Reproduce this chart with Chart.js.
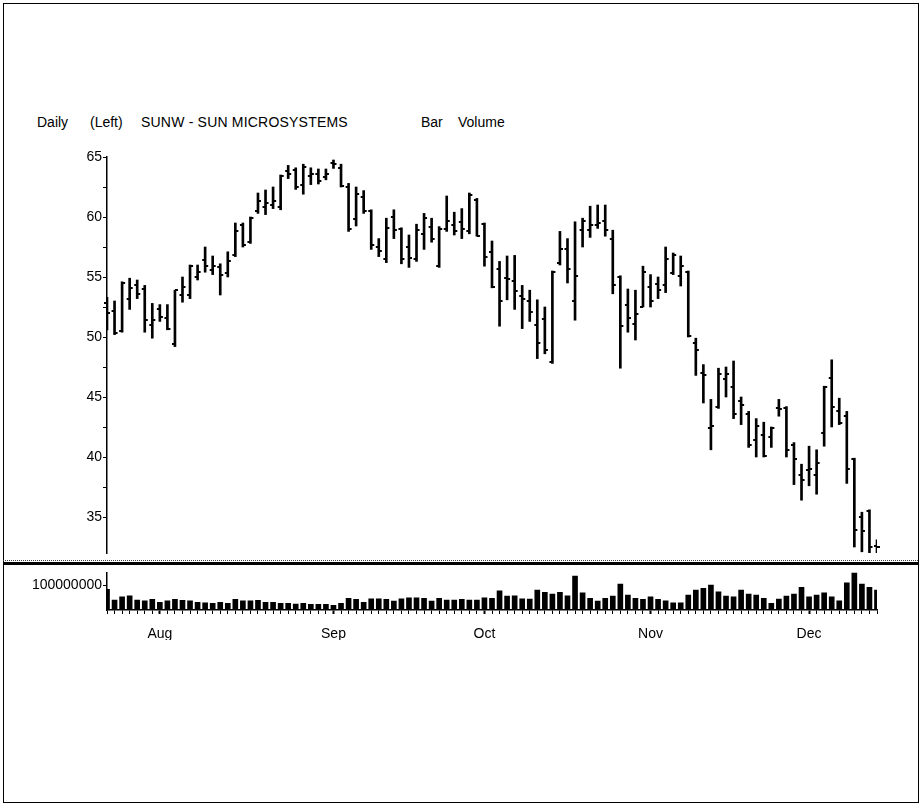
<!DOCTYPE html>
<html>
<head>
<meta charset="utf-8">
<script src="https://cdn.jsdelivr.net/npm/chart.js@4.4.0/dist/chart.umd.min.js"></script>
<style>
  html, body { margin: 0; padding: 0; background: #fff; }
  #page { position: relative; width: 922px; height: 805px; overflow: hidden;
          font-family: "Liberation Sans", Arial, sans-serif; color: #000; }
  #frame { position: absolute; left: 3px; top: 3px; width: 916px; height: 800px;
           border: 1px solid #000; box-sizing: border-box; }
  .txt { position: absolute; top: 115px; font-size: 14px; line-height: 14px; white-space: nowrap; }
  #sep1 { position: absolute; left: 3px; width: 915px; top: 560px; height: 0; border-top: 1px dotted #444; }
  #sep2 { position: absolute; left: 3px; width: 915px; top: 562px; height: 3px; background: #000; }
  canvas { position: absolute; left: 0; top: 0; }
</style>
</head>
<body>
<div id="page">
  <div id="frame"></div>
  <div class="txt" style="left:37px">Daily</div>
  <div class="txt" style="left:90px">(Left)</div>
  <div class="txt" style="left:141px; letter-spacing:0.2px">SUNW - SUN MICROSYSTEMS</div>
  <div class="txt" style="left:421px">Bar</div>
  <div class="txt" style="left:458px">Volume</div>
  <div id="sep1"></div>
  <div id="sep2"></div>
  <canvas id="priceChart" width="922" height="805"></canvas>
  <canvas id="volumeChart" width="922" height="805"></canvas>
</div>
<script>
// trading days, late Jul .. mid Dec
const days = Array.from({ length: 103 }, (_, i) => i);
const monthLabels = ['Aug', 'Sep', 'Oct', 'Nov', 'Dec'];
const monthStartIdx = [7, 30, 50, 72, 93];

const highs = [53.3,53.0,54.6,54.9,54.75,54.3,52.8,52.7,52.7,53.9,
  55.0,56.0,56.0,57.5,56.75,56.1,57.1,59.5,59.5,60.0,
  62.0,62.25,62.5,63.5,64.3,64.1,64.4,64.1,64.0,64.0,
  64.75,64.4,62.8,62.5,62.2,60.6,58.2,59.9,60.6,59.1,
  58.5,59.4,60.3,59.9,59.2,61.75,60.4,60.7,62.0,61.55,
  59.5,58.0,56.3,56.75,56.8,54.3,53.9,53.1,52.5,55.5,
  58.8,58.2,59.6,59.9,60.9,61.0,61.0,58.9,55.1,54.0,
  53.9,55.9,55.2,55.0,57.5,57.0,56.75,55.5,49.9,47.7,
  44.8,47.4,47.5,48.0,45.0,43.8,43.2,42.9,42.5,44.8,
  44.2,41.2,39.4,40.9,40.6,45.9,48.1,44.9,43.8,39.9,
  35.4,35.6,33.1];
const lows = [50.6,50.2,50.4,52.3,53.2,50.4,49.9,51.3,50.6,49.2,
  52.9,53.2,54.75,55.4,55.2,53.5,55.0,56.7,57.5,57.8,
  60.3,60.2,60.7,60.6,63.2,62.3,61.9,62.7,62.75,63.1,
  64.05,62.5,58.8,59.25,60.3,57.3,56.7,56.2,58.2,56.1,
  55.8,56.3,57.3,57.9,55.8,58.8,58.5,58.2,58.6,58.4,
  55.9,54.1,50.9,53.1,52.3,50.7,51.3,48.2,48.6,47.8,
  56.0,54.5,51.4,57.5,58.3,59.05,58.4,53.6,47.4,50.4,
  49.75,52.5,52.5,53.2,53.7,55.2,54.25,50.0,46.8,44.5,
  40.6,44.05,45.0,43.2,42.7,40.8,40.0,40.0,40.8,43.4,
  40.0,37.7,36.4,37.6,36.9,40.9,42.5,42.7,37.8,32.5,
  32.1,31.8,32.0];
const opens = [52.8,52.2,50.5,53.2,54.3,54.0,51.0,52.3,51.6,49.4,
  53.5,53.5,55.0,56.4,55.6,55.8,55.3,56.8,59.3,57.9,
  60.5,60.8,61.0,60.8,63.8,63.9,62.7,63.4,63.6,63.3,
  64.5,64.1,62.5,59.8,61.7,60.5,57.5,56.5,60.0,59.0,
  57.5,56.5,58.6,59.2,55.9,59.0,59.3,59.6,58.8,61.4,
  59.4,57.1,55.7,54.9,54.7,53.4,53.0,51.0,51.5,47.9,
  56.2,57.3,53.0,58.9,58.9,59.3,59.7,58.2,55.0,52.7,
  51.1,52.5,54.2,54.4,54.3,55.3,55.1,55.4,49.5,47.0,
  42.4,44.2,46.5,45.8,44.7,43.6,41.4,41.8,41.7,44.1,
  44.1,41.0,38.5,38.9,38.5,42.0,46.6,43.8,43.4,39.8,
  35.0,35.5,32.6];
const closes = [52.0,50.3,54.5,54.1,53.6,51.4,51.4,51.7,50.7,53.9,
  54.2,55.9,55.4,55.9,55.9,55.2,56.3,58.8,57.7,59.9,
  61.3,61.2,61.3,63.4,63.6,62.5,64.2,63.6,63.0,63.6,
  64.4,62.6,59.0,61.9,60.5,57.7,57.2,59.1,58.9,56.5,
  56.6,58.9,59.9,58.2,59.0,59.7,58.8,59.0,61.8,58.4,
  56.7,54.2,53.0,54.8,53.8,53.2,52.1,49.5,48.9,55.4,
  57.3,55.7,55.1,59.7,59.3,59.5,58.9,54.3,50.9,51.6,
  51.9,55.4,53.0,53.9,56.5,56.8,55.9,50.1,48.9,46.8,
  42.6,46.9,46.9,43.6,44.3,41.0,42.6,40.1,42.4,44.0,
  40.6,39.8,38.1,39.0,39.5,45.8,44.2,42.8,39.0,33.9,
  33.8,32.5,32.5];
// volume in millions of shares
const volumes = [83,40,53,57,40,37,43,31,37,43,
  39,37,31,29,27,31,27,43,37,37,
  39,31,31,27,27,24,27,23,23,23,
  19,27,47,43,31,45,45,43,36,45,
  49,49,47,36,47,40,40,43,40,40,
  49,47,77,56,57,45,44,80,71,64,
  71,57,136,69,47,36,47,56,104,60,
  47,43,53,43,37,29,29,60,80,87,
  100,73,56,53,80,64,60,47,27,44,
  56,64,91,53,60,69,53,37,109,149,
  104,91,80];

const priceTicks = [35, 37.5, 40, 42.5, 45, 47.5, 50, 52.5, 55, 57.5, 60, 62.5, 65];
const volumeTicks = [100];
const volumeTickLabels = ['100000000'];

const font = { family: '"Liberation Sans", Arial, sans-serif', size: 14 };

function tickImage(side) {
  const c = document.createElement('canvas');
  c.width = 8; c.height = 2;
  const g = c.getContext('2d');
  g.fillStyle = '#000';
  if (side === 'left') g.fillRect(1, 0, 3, 2); else g.fillRect(4, 0, 3, 2);
  return c;
}

const common = {
  responsive: false,
  animation: false,
  events: [],
  plugins: { legend: { display: false }, tooltip: { enabled: false } }
};

new Chart(document.getElementById('priceChart').getContext('2d'), {
  type: 'bar',
  data: {
    labels: days,
    datasets: [
      { data: lows.map((l, i) => [l, highs[i]]), backgroundColor: '#000', barThickness: 2, borderWidth: 0 },
      { type: 'line', data: opens, showLine: false, pointStyle: tickImage('left'), pointRadius: 4 },
      { type: 'line', data: closes, showLine: false, pointStyle: tickImage('right'), pointRadius: 4 }
    ]
  },
  options: {
    ...common,
    layout: { padding: { top: 157, bottom: 252, left: 0, right: 45 } },
    scales: {
      x: { type: 'category', offset: false, display: false },
      y: {
        min: 32, max: 65,
        afterBuildTicks: s => { s.ticks = priceTicks.map(v => ({ value: v })); },
        afterFit: s => { s.width = 107; },
        ticks: { callback: v => (v % 5 === 0 ? v : ''), color: '#000', font, padding: 1 },
        grid: { drawOnChartArea: false, tickLength: 4, color: '#000' },
        border: { display: true, color: '#000', width: 1.5 }
      }
    }
  }
});

new Chart(document.getElementById('volumeChart').getContext('2d'), {
  type: 'bar',
  data: {
    labels: days,
    datasets: [{ data: volumes, backgroundColor: '#000', barThickness: 5, borderWidth: 0 }]
  },
  options: {
    ...common,
    layout: { padding: { top: 572.5, bottom: 165, left: 0, right: 45 } },
    scales: {
      x: {
        type: 'category', offset: false,
        afterFit: s => { s.height = 30; },
        ticks: {
          autoSkip: false, maxRotation: 0, padding: 12, color: '#000', font,
          callback: (v, i) => {
            const k = monthStartIdx.indexOf(i);
            return k >= 0 ? monthLabels[k] : '';
          }
        },
        grid: {
          offset: false, drawOnChartArea: false, tickLength: 4, color: '#000',
          tickWidth: c => (monthStartIdx.includes(c.index) ? 2 : 1)
        },
        border: { display: true, color: '#000', width: 1.5 }
      },
      y: {
        min: 0, max: 150,
        afterBuildTicks: s => { s.ticks = volumeTicks.map(v => ({ value: v })); },
        afterFit: s => { s.width = 107; },
        ticks: { callback: (v, i) => volumeTickLabels[i], color: '#000', font, padding: 1 },
        grid: { drawOnChartArea: false, tickLength: 4, color: '#000' },
        border: { display: true, color: '#000', width: 1.5 }
      }
    }
  }
});
</script>
</body>
</html>
